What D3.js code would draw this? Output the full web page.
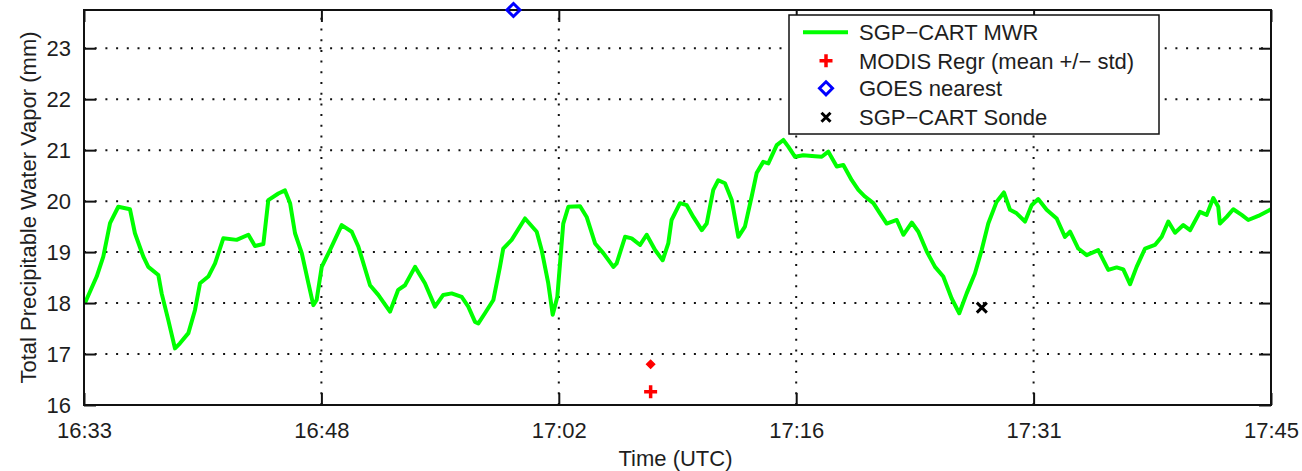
<!DOCTYPE html>
<html>
<head>
<meta charset="utf-8">
<script src="https://cdn.jsdelivr.net/npm/d3@7/dist/d3.min.js"></script>
<style>
  html, body { margin: 0; padding: 0; background: #fff; }
  svg { display: block; }
  text { font-family: "Liberation Sans", Arial, Helvetica, sans-serif; fill: #1e1e1e; }
</style>
</head>
<body>
<svg id="chart" width="1302" height="471"></svg>
<script>
// Time axis in minutes after 16:00 UTC
const xDomain = [33, 105];
const xTickLabels = ["16:33", "16:48", "17:02", "17:16", "17:31", "17:45"];
const yDomain = [16, 23.75];
const yTickValues = [16, 17, 18, 19, 20, 21, 22, 23];

// SGP-CART microwave radiometer precipitable water (mm)
const mwrTime = [
  33.06, 33.77, 34.17, 34.58, 35.08, 35.79, 36.09, 36.60, 36.90, 37.51,
  37.71, 38.11, 38.52, 38.82, 39.33, 39.73, 40.04, 40.54, 40.95, 41.45,
  42.26, 42.97, 43.37, 43.88, 44.18, 44.79, 45.19, 45.50, 45.80, 46.21,
  46.61, 46.91, 47.11, 47.42, 47.92, 48.63, 49.24, 49.64, 50.35, 50.85,
  51.56, 52.06, 52.47, 53.08, 53.68, 54.29, 54.79, 55.30, 55.91, 56.31,
  56.72, 56.92, 57.32, 57.83, 58.23, 58.43, 58.94, 59.75, 60.46, 60.76,
  61.16, 61.43, 61.71, 62.07, 62.38, 63.09, 63.49, 64.00, 64.50, 65.11,
  65.31, 65.82, 66.22, 66.73, 67.13, 67.64, 68.10, 68.44, 68.64, 69.15,
  69.56, 69.96, 70.47, 70.77, 71.17, 71.47, 71.88, 72.29, 72.69, 73.09,
  73.50, 73.80, 74.20, 74.51, 75.02, 75.42, 75.72, 76.13, 76.63, 77.34,
  77.75, 78.15, 78.66, 79.06, 79.57, 79.97, 80.37, 80.88, 81.28, 81.69,
  82.30, 82.70, 83.21, 83.61, 84.12, 84.62, 85.12, 85.63, 86.09, 86.54,
  87.04, 87.45, 87.85, 88.36, 88.80, 89.17, 89.57, 90.08, 90.48, 90.88,
  91.39, 92.00, 92.50, 92.81, 93.31, 93.82, 94.52, 95.13, 95.64, 96.04,
  96.45, 96.85, 97.36, 97.96, 98.37, 98.77, 99.18, 99.68, 100.09, 100.69,
  101.10, 101.50, 101.80, 101.90, 102.31, 102.71, 103.22, 103.62, 104.23, 104.84,
  105.00
];
const mwrPwv = [
  18.00, 18.52, 18.91, 19.57, 19.89, 19.84, 19.37, 18.91, 18.71, 18.55,
  18.19, 17.67, 17.11, 17.21, 17.41, 17.86, 18.39, 18.52, 18.78, 19.27,
  19.24, 19.34, 19.12, 19.16, 20.02, 20.15, 20.21, 19.96, 19.37, 18.98,
  18.39, 17.96, 18.06, 18.71, 19.04, 19.53, 19.40, 19.11, 18.35, 18.16,
  17.83, 18.26, 18.35, 18.71, 18.39, 17.93, 18.16, 18.19, 18.12, 17.93,
  17.63, 17.60, 17.80, 18.06, 18.71, 19.07, 19.24, 19.66, 19.40, 19.04,
  18.39, 17.77, 18.12, 19.56, 19.89, 19.90, 19.69, 19.17, 18.98, 18.71,
  18.78, 19.30, 19.27, 19.14, 19.34, 19.04, 18.84, 19.17, 19.63, 19.96,
  19.92, 19.69, 19.43, 19.56, 20.22, 20.41, 20.35, 20.02, 19.30, 19.50,
  20.09, 20.55, 20.77, 20.74, 21.10, 21.20, 21.07, 20.87, 20.90, 20.88,
  20.87, 20.97, 20.68, 20.71, 20.41, 20.22, 20.09, 19.96, 19.76, 19.56,
  19.63, 19.34, 19.58, 19.40, 19.01, 18.71, 18.52, 18.09, 17.80, 18.19,
  18.58, 19.04, 19.56, 19.99, 20.17, 19.83, 19.76, 19.60, 19.92, 20.04,
  19.83, 19.66, 19.30, 19.40, 19.07, 18.94, 19.04, 18.65, 18.70, 18.66,
  18.37, 18.71, 19.07, 19.14, 19.30, 19.60, 19.38, 19.53, 19.43, 19.79,
  19.73, 20.06, 19.89, 19.56, 19.69, 19.84, 19.73, 19.63, 19.71, 19.81,
  19.84
];

// MODIS regression retrieval: mean and mean + std
const modisTime = [67.37];
const modisMean = [16.26];
const modisStd = [0.54];

// GOES nearest pixel
const goesTime = [59.05];
const goesPwv = [23.75];

// SGP-CART radiosonde
const sondeTime = [87.46];
const sondePwv = [17.91];

const legendLabels = [
  "SGP\u2212CART MWR",
  "MODIS Regr (mean +/\u2212 std)",
  "GOES nearest",
  "SGP\u2212CART Sonde"
];

const margin = { left: 84, right: 31, top: 10, bottom: 66 };
const W = 1302, H = 471;
const svg = d3.select("#chart");

const x = d3.scaleLinear().domain(xDomain).range([margin.left, W - margin.right]);
const y = d3.scaleLinear().domain(yDomain).range([H - margin.bottom, margin.top]);

const xTicks = xTickLabels.map((_, i) => xDomain[0] + i * (xDomain[1] - xDomain[0]) / (xTickLabels.length - 1));
const x0 = x.range()[0], x1 = x.range()[1];
const y0 = y.range()[0], y1 = y.range()[1];

// Dotted grid
const grid = svg.append("g")
  .attr("stroke", "#111")
  .attr("stroke-width", 2)
  .attr("stroke-dasharray", "2,8.7");
grid.selectAll("line.h").data(yTickValues.slice(1)).join("line")
  .attr("class", "h")
  .attr("x1", x0).attr("x2", x1)
  .attr("y1", d => y(d)).attr("y2", d => y(d));
grid.selectAll("line.v").data(xTicks.slice(1, -1)).join("line")
  .attr("class", "v")
  .attr("x1", d => x(d)).attr("x2", d => x(d))
  .attr("y1", y0).attr("y2", y1);

// MWR time series
const line = d3.line().x(d => x(d[0])).y(d => y(d[1]));
svg.append("path")
  .datum(mwrTime.map((t, i) => [t, mwrPwv[i]]))
  .attr("d", line)
  .attr("fill", "none")
  .attr("stroke", "#00ff00")
  .attr("stroke-width", 4)
  .attr("stroke-linejoin", "round");

// Axes: box with inward ticks on all four sides
const tickLen = 12;
const axisColor = "#111";
const axB = d3.axisBottom(x).tickValues(xTicks).tickSize(-tickLen).tickPadding(17)
  .tickFormat((d, i) => xTickLabels[i]);
const axT = d3.axisTop(x).tickValues(xTicks).tickSize(-tickLen).tickFormat("");
const axL = d3.axisLeft(y).tickValues(yTickValues).tickSize(-tickLen).tickPadding(13)
  .tickFormat(d3.format("d"));
const axR = d3.axisRight(y).tickValues(yTickValues).tickSize(-tickLen).tickFormat("");

function styleAxis(g) {
  g.select(".domain").remove();
  g.selectAll(".tick line").attr("stroke", axisColor).attr("stroke-width", 2);
  g.selectAll(".tick text")
    .attr("font-size", 22)
    .attr("font-family", "'Liberation Sans', Arial, Helvetica, sans-serif")
    .attr("fill", "#1e1e1e");
}
svg.append("g").attr("transform", `translate(0,${y0})`).call(axB).call(styleAxis);
svg.append("g").attr("transform", `translate(0,${y1})`).call(axT).call(styleAxis);
svg.append("g").attr("transform", `translate(${x0},0)`).call(axL).call(styleAxis);
svg.append("g").attr("transform", `translate(${x1},0)`).call(axR).call(styleAxis);

svg.append("rect")
  .attr("x", x0).attr("y", y1)
  .attr("width", x1 - x0).attr("height", y0 - y1)
  .attr("fill", "none").attr("stroke", axisColor).attr("stroke-width", 2);

// Axis titles
svg.append("text")
  .attr("x", (x0 + x1) / 2 - 2).attr("y", 466)
  .attr("text-anchor", "middle").attr("font-size", 22)
  .text("Time (UTC)");
svg.append("text")
  .attr("transform", `translate(36,${(y0 + y1) / 2}) rotate(-90)`)
  .attr("text-anchor", "middle").attr("font-size", 22)
  .text("Total Precipitable Water Vapor (mm)");

// Marker shapes
function plus(g, cx, cy, s, color, w) {
  g.append("path")
    .attr("d", `M${cx - s / 2},${cy}H${cx + s / 2}M${cx},${cy - s / 2}V${cy + s / 2}`)
    .attr("stroke", color).attr("stroke-width", w).attr("fill", "none");
}
function cross(g, cx, cy, s, color, w) {
  g.append("path")
    .attr("d", `M${cx - s / 2},${cy - s / 2}L${cx + s / 2},${cy + s / 2}M${cx - s / 2},${cy + s / 2}L${cx + s / 2},${cy - s / 2}`)
    .attr("stroke", color).attr("stroke-width", w).attr("fill", "none");
}
function diamond(g, cx, cy, s, color, w, filled) {
  g.append("path")
    .attr("d", `M${cx},${cy - s / 2}L${cx + s / 2},${cy}L${cx},${cy + s / 2}L${cx - s / 2},${cy}Z`)
    .attr("stroke", color).attr("stroke-width", w)
    .attr("fill", filled ? color : "none");
}

const marks = svg.append("g");
modisTime.forEach((t, i) => {
  plus(marks, x(t), y(modisMean[i]), 13, "#ff0000", 3.5);
  const hi = modisMean[i] + modisStd[i];
  const lo = modisMean[i] - modisStd[i];
  [hi, lo].filter(v => v >= yDomain[0] && v <= yDomain[1])
    .forEach(v => diamond(marks, x(t), y(v), 8, "#ff0000", 1.5, true));
});
goesTime.forEach((t, i) => diamond(marks, x(t), y(goesPwv[i]), 13, "#0000ff", 3, false));
sondeTime.forEach((t, i) => cross(marks, x(t), y(sondePwv[i]), 10, "#000", 3));

// Legend
const lg = svg.append("g");
lg.append("rect")
  .attr("x", 789).attr("y", 15).attr("width", 370).attr("height", 119)
  .attr("fill", "#fff").attr("stroke", "#111").attr("stroke-width", 1.5);
const rowY = [32.3, 60.7, 88.3, 117.3];
lg.append("line")
  .attr("x1", 803).attr("x2", 848).attr("y1", rowY[0]).attr("y2", rowY[0])
  .attr("stroke", "#00ff00").attr("stroke-width", 4);
plus(lg, 826, rowY[1], 13, "#ff0000", 3.5);
diamond(lg, 826, rowY[2], 13, "#0000ff", 3, false);
cross(lg, 826, rowY[3], 9, "#000", 3);
lg.selectAll("text.lab").data(legendLabels).join("text")
  .attr("class", "lab")
  .attr("x", 859).attr("y", (d, i) => rowY[i] + 8)
  .attr("font-size", 22)
  .text(d => d);
</script>
</body>
</html>
